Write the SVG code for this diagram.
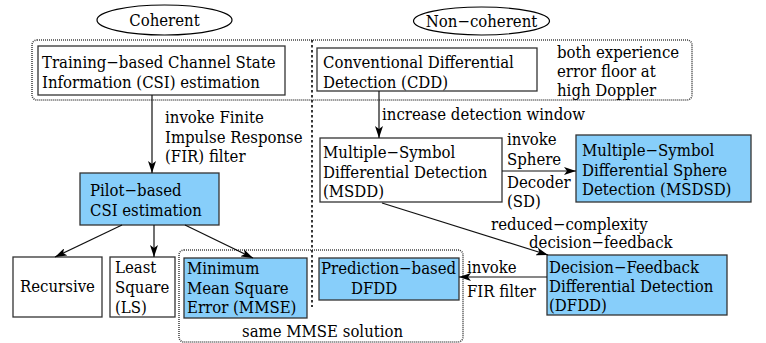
<svg xmlns="http://www.w3.org/2000/svg" width="766" height="343" viewBox="0 0 766 343">
<style>
text{font-family:'DejaVu Serif Condensed','DejaVu Serif',serif;font-size:16.6px;fill:#000}
.box{fill:#fff;stroke:#333;stroke-width:1.3}
.blue{fill:#87cefa;stroke:#333;stroke-width:1.3}
.dot{fill:none;stroke:#444;stroke-width:1.6;stroke-dasharray:1 1}
.vd{fill:none;stroke:#222;stroke-width:1.8;stroke-dasharray:2.5 2.5}
.ln{fill:none;stroke:#111;stroke-width:1.2;marker-end:url(#ah)}
.el{fill:#fff;stroke:#000;stroke-width:1.2}
</style>
<defs>
<marker id="ah" viewBox="0 0 12 8" refX="12" refY="4" markerWidth="12" markerHeight="8" markerUnits="userSpaceOnUse" orient="auto">
<path d="M0,0 L12,4 L0,8 L3,4 Z" fill="#000"/>
</marker>
</defs>
<g id="groups">
<rect class="dot" x="32" y="40" width="660" height="60" rx="5"/>
<rect class="dot" x="179" y="250" width="284" height="92" rx="5"/>
<line class="vd" x1="312" y1="40" x2="312" y2="307"/>
</g>
<g id="coherent"><ellipse class="el" cx="164.5" cy="20" rx="67.5" ry="15"/><text x="164.5" y="26" text-anchor="middle">Coherent</text></g>
<g id="noncoherent"><ellipse class="el" cx="481.5" cy="21" rx="68" ry="14"/><text x="481.5" y="27" text-anchor="middle">Non−coherent</text></g>
<g id="training"><rect class="box" x="38" y="46" width="247" height="49"/><text x="42" y="68">Training−based Channel State</text><text x="42" y="88">Information (CSI) estimation</text></g>
<g id="cdd"><rect class="box" x="317" y="48" width="220" height="43"/><text x="323" y="68">Conventional Differential</text><text x="323" y="88">Detection (CDD)</text></g>
<g id="note"><text x="557" y="58">both experience</text><text x="557" y="77">error floor at</text><text x="557" y="96">high Doppler</text></g>
<g id="pilot"><rect class="blue" x="80" y="173" width="139" height="52"/><text x="90" y="196">Pilot−based</text><text x="90" y="216">CSI estimation</text></g>
<g id="recursive"><rect class="box" x="13" y="257" width="89" height="60"/><text x="57.5" y="292" text-anchor="middle">Recursive</text></g>
<g id="ls"><rect class="box" x="110" y="257" width="65" height="60"/><text x="115" y="273">Least</text><text x="115" y="293">Square</text><text x="115" y="313">(LS)</text></g>
<g id="mmse"><rect class="blue" x="184" y="258" width="123" height="60"/><text x="187" y="274">Minimum</text><text x="187" y="294">Mean Square</text><text x="187" y="313">Error (MMSE)</text></g>
<g id="same"><text x="242" y="337">same MMSE solution</text></g>
<g id="msdd"><rect class="box" x="320" y="138" width="182" height="64"/><text x="323" y="158">Multiple−Symbol</text><text x="323" y="178">Differential Detection</text><text x="323" y="197">(MSDD)</text></g>
<g id="msdsd"><rect class="blue" x="576" y="135" width="175" height="67"/><text x="582" y="156">Multiple−Symbol</text><text x="582" y="176">Differential Sphere</text><text x="582" y="195">Detection (MSDSD)</text></g>
<g id="prediction"><rect class="blue" x="319" y="258" width="140" height="42"/><text x="321" y="274">Prediction−based</text><text x="351" y="294">DFDD</text></g>
<g id="dfdd"><rect class="blue" x="547" y="255" width="180" height="60"/><text x="549" y="273">Decision−Feedback</text><text x="549" y="292">Differential Detection</text><text x="549" y="311">(DFDD)</text></g>
<g id="connectors">
<line class="ln" x1="152" y1="95" x2="152" y2="173"/>
<line class="ln" x1="122" y1="225" x2="55" y2="257"/>
<line class="ln" x1="154" y1="225" x2="154" y2="257"/>
<line class="ln" x1="185" y1="225" x2="253" y2="258"/>
<line class="ln" x1="379" y1="91" x2="379" y2="138"/>
<line class="ln" x1="502" y1="171" x2="576" y2="171"/>
<line class="ln" x1="382" y1="203" x2="548" y2="255"/>
<line class="ln" x1="547" y1="277" x2="459" y2="277"/>
</g>
<g id="labels">
<text x="165" y="123">invoke Finite</text><text x="165" y="143">Impulse Response</text><text x="165" y="162">(FIR) filter</text>
<text x="382" y="120">increase detection window</text>
<text x="507" y="145">invoke</text><text x="507" y="165">Sphere</text><text x="507" y="188">Decoder</text><text x="507" y="207">(SD)</text>
<text x="491" y="230">reduced−complexity</text><text x="529" y="248">decision−feedback</text>
<text x="467" y="273">invoke</text><text x="467" y="297">FIR filter</text>
</g>
</svg>
